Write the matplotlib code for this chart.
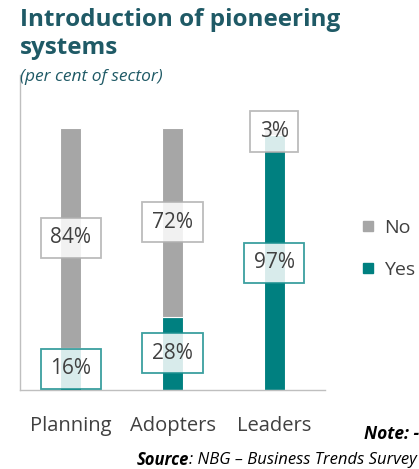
import matplotlib.pyplot as plt
from matplotlib.lines import Line2D

# Survey results (per cent of sector)
categories = ["Planning", "Adopters", "Leaders"]
yes_values = [16, 28, 97]
no_values = [84, 72, 3]
series_names = ["No", "Yes"]

TEAL = "#008080"
GRAY = "#a6a6a6"
TITLE_COLOR = "#1f5a66"
TEXT_COLOR = "#404040"

plt.rcParams["font.family"] = ["Open Sans", "DejaVu Sans"]

fig = plt.figure(figsize=(4.19, 4.69), dpi=100)
ax = fig.add_axes([20 / 419, 1 - 390 / 469, 305 / 419, 315 / 469])

x = range(len(categories))
width = 0.205
bars_yes = ax.bar(x, yes_values, width, color=TEAL, edgecolor="white", linewidth=0.8)
bars_no = ax.bar(x, no_values, width, bottom=yes_values, color=GRAY,
                 edgecolor="white", linewidth=0.8)

ax.set_xlim(-0.5, 2.5)
ax.set_ylim(0, 120)

def box_labels(bars, values, bottoms, edge):
    """Centre a boxed percentage label on each bar segment."""
    for bar, v, b in zip(bars, values, bottoms):
        cx = bar.get_x() + bar.get_width() / 2
        ax.text(cx, b + v / 2, f"{v}%", ha="center", va="center",
                fontsize=15, color=TEXT_COLOR,
                bbox=dict(boxstyle="square,pad=0.46", facecolor="white",
                          alpha=0.85, edgecolor=edge, linewidth=1.3))

box_labels(bars_no, no_values, yes_values, "#b0b0b0")
box_labels(bars_yes, yes_values, [0, 0, 0], "#1a8f8f")

for side in ["top", "right"]:
    ax.spines[side].set_visible(False)
for side in ["left", "bottom"]:
    ax.spines[side].set_color("#bfbfbf")
    ax.spines[side].set_linewidth(1.0)
ax.set_yticks([])
ax.set_xticks(list(x))
ax.set_xticklabels(categories, fontsize=14.5, color=TEXT_COLOR)
ax.tick_params(axis="x", length=0, pad=19)

handles = [Line2D([], [], marker="s", linestyle="none", markersize=7,
                  color=c) for c in (GRAY, TEAL)]
fig.legend(handles, series_names, loc="center left",
           bbox_to_anchor=(350 / 419, 1 - 249 / 469), frameon=False,
           fontsize=14, labelcolor=TEXT_COLOR, handletextpad=0.45,
           labelspacing=1.25, handlelength=0.8, borderpad=0)

fig.text(20 / 419, 1 - 8 / 469, "Introduction of pioneering\nsystems",
         fontsize=17.5, fontweight="bold", color=TITLE_COLOR, va="top",
         linespacing=1.2)
fig.text(20 / 419, 1 - 77 / 469, "(per cent of sector)", fontsize=12.5,
         fontstyle="italic", color=TITLE_COLOR, va="center")

fig.text(1.0, 1 - 434 / 469, "Note: -", fontsize=12.5, fontstyle="italic",
         fontweight="bold", color="black", ha="right", va="center")
rest = fig.text(0.995, 1 - 460 / 469, ": NBG – Business Trends Survey",
                fontsize=12, fontstyle="italic", color="black",
                ha="right", va="center")
ax.annotate("Source", xy=(0, 0.5), xycoords=rest, fontsize=12,
            fontstyle="italic", fontweight="bold", color="black",
            ha="right", va="center", annotation_clip=False)

fig.savefig("out.png", dpi=100)
